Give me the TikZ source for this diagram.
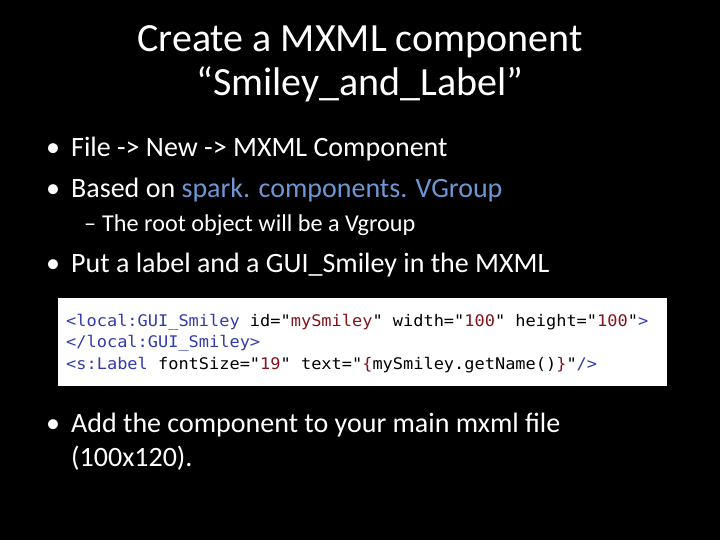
\documentclass[tikz,border=0pt]{standalone}
\usepackage{fontspec}
\setmainfont{Carlito}
\newfontfamily\codefont{DejaVu Sans Mono}
\usepackage{graphicx}
\definecolor{tagc}{RGB}{50,60,170}
\definecolor{valc}{RGB}{130,20,30}
\definecolor{linkc}{RGB}{110,150,210}
\tikzset{
 title/.style={text=white,font=\fontsize{40}{44}\selectfont,align=center},
 bul/.style={text=white,font=\fontsize{28}{34}\selectfont,anchor=base west,inner sep=0},
 sub/.style={text=white,font=\fontsize{24.2}{29}\selectfont,anchor=base west,inner sep=0},
 code/.style={font=\codefont\fontsize{16}{18}\selectfont,anchor=base west,inner sep=0}
}
\newcommand\cl[1]{\scalebox{1.06}[1]{#1}}
\begin{document}
\begin{tikzpicture}[x=1pt,y=-1pt]
\fill[black] (0,0) rectangle (720,540);
\node[title] (t) at (360,64) {Create a MXML component\\ “Smiley\_and\_Label”};
\node[bul] (d1) at (46,157) {•};
\node[bul] (b1) at (71,157) {File -> New -> MXML Component};
\node[bul] (d2) at (46,197) {•};
\node[bul] (b2) at (71,197) {Based on \textcolor{linkc}{spark. components. VGroup}};
\node[sub] (d3) at (84,232) {–};
\node[sub] (s1) at (102,232) {The root object will be a Vgroup};
\node[bul] (d4) at (46,272) {•};
\node[bul] (b3) at (71,272) {Put a label and a GUI\_Smiley in the MXML};
\fill[white] (58,298) rectangle (667,386);
\node[code] (c1) at (66,326) {\cl{\textcolor{tagc}{<local:GUI\_Smiley} id="\textcolor{valc}{mySmiley}" width="\textcolor{valc}{100}" height="\textcolor{valc}{100}"\textcolor{tagc}{>}}};
\node[code] (c2) at (66,347) {\cl{\textcolor{tagc}{</local:GUI\_Smiley>}}};
\node[code] (c3) at (66,369) {\cl{\textcolor{tagc}{<s:Label} fontSize="\textcolor{valc}{19}" text="\textcolor{valc}{\{}mySmiley.getName()\textcolor{valc}{\}}"\textcolor{tagc}{/>}}};
\node[bul] (d5) at (46,432) {•};
\node[bul] (b4) at (71,432) {Add the component to your main mxml file};
\node[bul] (b5) at (71,466) {(100x120).};
\end{tikzpicture}
\end{document}
